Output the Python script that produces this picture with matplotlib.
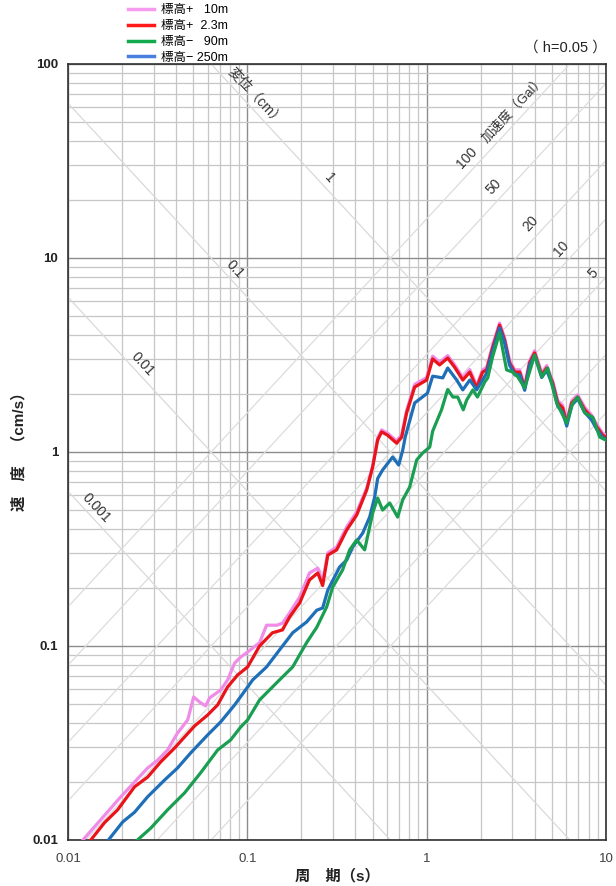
import numpy as np
import matplotlib.pyplot as plt
from matplotlib.ticker import FixedLocator, NullFormatter

plt.rcParams['font.family'] = ['Liberation Sans', 'Noto Sans CJK JP', 'DejaVu Sans']

# --- spectra (period s, velocity cm/s) ---
period_p10 = [0.0121, 0.0152, 0.0197, 0.0235, 0.0278, 0.0316, 0.0359, 0.0408, 0.0465, 0.0502,
              0.0542, 0.0585, 0.0616, 0.0710, 0.0776, 0.0850, 0.0918, 0.1004, 0.117, 0.128,
              0.146, 0.157, 0.172, 0.196, 0.222, 0.247, 0.263, 0.281, 0.315, 0.358,
              0.407, 0.463, 0.500, 0.533, 0.561, 0.606, 0.680, 0.726, 0.773, 0.857,
              1.00, 1.08, 1.18, 1.31, 1.43, 1.59, 1.74, 1.90, 2.05, 2.16,
              2.33, 2.55, 2.72, 2.90, 3.10, 3.30, 3.52, 3.75, 4.00, 4.38,
              4.67, 5.04, 5.38, 5.73, 6.04, 6.44, 6.95, 7.61, 8.32, 8.87, 9.59, 10.0]
vel_p10 = [0.0100, 0.0127, 0.0167, 0.0199, 0.0235, 0.0258, 0.0291, 0.0356, 0.0416, 0.0546,
           0.0514, 0.0491, 0.0540, 0.0593, 0.0668, 0.0817, 0.0877, 0.0931, 0.104, 0.128,
           0.128, 0.131, 0.148, 0.179, 0.238, 0.252, 0.215, 0.302, 0.324, 0.411,
           0.491, 0.650, 0.85, 1.18, 1.30, 1.25, 1.14, 1.23, 1.64, 2.23,
           2.42, 3.12, 2.90, 3.14, 2.82, 2.42, 2.66, 2.20, 2.65, 2.73,
           3.54, 4.62, 3.88, 2.96, 2.65, 2.65, 2.20, 2.96, 3.33, 2.56,
           2.79, 2.33, 1.84, 1.74, 1.45, 1.84, 1.97, 1.70, 1.55, 1.39, 1.25, 1.22]

period_p23 = [0.0134, 0.0160, 0.0189, 0.0235, 0.0278, 0.0328, 0.0393, 0.0447, 0.0508, 0.0601,
              0.0683, 0.0776, 0.0883, 0.1004, 0.117, 0.138, 0.157, 0.172, 0.196, 0.222,
              0.247, 0.263, 0.281, 0.315, 0.358, 0.407, 0.463, 0.500, 0.533, 0.561,
              0.606, 0.680, 0.726, 0.773, 0.857, 1.00, 1.08, 1.18, 1.31, 1.43,
              1.59, 1.74, 1.90, 2.05, 2.16, 2.33, 2.55, 2.72, 2.90, 3.10,
              3.30, 3.52, 3.75, 4.00, 4.38, 4.67, 5.04, 5.38, 5.73, 6.04,
              6.44, 6.95, 7.61, 8.32, 8.87, 9.59, 10.0]
vel_p23 = [0.0100, 0.0123, 0.0143, 0.0188, 0.0211, 0.0252, 0.0298, 0.0340, 0.0387, 0.0441,
           0.0497, 0.0615, 0.0709, 0.0780, 0.100, 0.117, 0.121, 0.141, 0.167, 0.219,
           0.238, 0.205, 0.294, 0.313, 0.396, 0.473, 0.637, 0.837, 1.153, 1.27,
           1.22, 1.11, 1.195, 1.59, 2.16, 2.35, 3.02, 2.81, 3.05, 2.74,
           2.35, 2.58, 2.14, 2.58, 2.65, 3.44, 4.51, 3.78, 2.88, 2.58,
           2.58, 2.14, 2.88, 3.24, 2.49, 2.71, 2.27, 1.79, 1.69, 1.41,
           1.79, 1.92, 1.65, 1.51, 1.35, 1.22, 1.195]

period_m90 = [0.0244, 0.0289, 0.0359, 0.0447, 0.0549, 0.0683, 0.0807, 0.0918, 0.1004, 0.117,
              0.151, 0.179, 0.214, 0.244, 0.277, 0.299, 0.340, 0.372, 0.407, 0.451,
              0.481, 0.500, 0.533, 0.568, 0.622, 0.689, 0.735, 0.804, 0.880, 0.950,
              1.04, 1.08, 1.21, 1.31, 1.40, 1.49, 1.60, 1.67, 1.81, 1.92,
              2.11, 2.19, 2.33, 2.55, 2.79, 3.02, 3.22, 3.52, 4.00, 4.38,
              4.73, 5.31, 6.04, 6.53, 6.95, 7.61, 8.44, 9.22, 10.0]
vel_m90 = [0.0100, 0.0115, 0.0143, 0.0175, 0.0222, 0.0291, 0.0328, 0.0382, 0.0416, 0.0527,
           0.0668, 0.0780, 0.104, 0.125, 0.159, 0.201, 0.247, 0.313, 0.352, 0.313,
           0.411, 0.485, 0.579, 0.502, 0.546, 0.462, 0.566, 0.660, 0.910, 0.988,
           1.06, 1.28, 1.65, 2.10, 1.92, 1.92, 1.65, 1.85, 2.09, 1.92,
           2.30, 2.41, 3.09, 4.11, 2.65, 2.58, 2.44, 2.14, 3.16, 2.44,
           2.71, 1.79, 1.41, 1.79, 1.92, 1.59, 1.51, 1.195, 1.15]

period_m250 = [0.0168, 0.0202, 0.0235, 0.0278, 0.0346, 0.0408, 0.0483, 0.0601, 0.0710, 0.0850,
               0.1004, 0.107, 0.128, 0.151, 0.179, 0.214, 0.244, 0.263, 0.281, 0.327,
               0.358, 0.387, 0.440, 0.481, 0.513, 0.533, 0.568, 0.646, 0.698, 0.735,
               0.760, 0.857, 1.01, 1.08, 1.23, 1.31, 1.47, 1.59, 1.74, 1.90,
               2.16, 2.33, 2.55, 2.72, 2.90, 3.10, 3.30, 3.52, 3.75, 4.00,
               4.38, 4.67, 5.04, 5.38, 5.73, 6.04, 6.44, 6.95, 7.61, 8.32, 8.87, 9.59, 10.0]
vel_m250 = [0.0100, 0.0124, 0.0139, 0.0167, 0.0204, 0.0235, 0.0281, 0.0348, 0.0406, 0.0497,
            0.0615, 0.0668, 0.0780, 0.0953, 0.117, 0.133, 0.153, 0.157, 0.194, 0.255,
            0.277, 0.324, 0.382, 0.462, 0.586, 0.73, 0.808, 0.942, 0.857, 1.02,
            1.20, 1.79, 2.01, 2.46, 2.41, 2.71, 2.35, 2.09, 2.35, 2.09,
            2.55, 3.30, 4.36, 3.65, 2.80, 2.50, 2.50, 2.08, 2.80, 3.15,
            2.42, 2.64, 2.20, 1.72, 1.60, 1.36, 1.74, 1.88, 1.60, 1.46, 1.31, 1.19, 1.16]

labels = ['標高+   10m', '標高+  2.3m', '標高−   90m', '標高− 250m']
legend_colors = ['#f59cf0', '#ff1a1a', '#12a84c', '#4a7fe0']
curve_colors = ['#f08ce8', '#e8141a', '#1a9e52', '#1f6fb8']

# tripartite guide lines
disp_vals = [0.001, 0.01, 0.1, 1]
disp_labels = ['0.001', '0.01', '0.1', '1']
disp_label_T = [0.01438, 0.0261, 0.085, 0.288]
acc_vals = [1, 2, 5, 10, 20, 50, 100]
acc_labels = ['100', '50', '20', '10', '5']
acc_label_T = [1.671, 2.36, 3.80, 5.66, 8.43]

fig = plt.figure(figsize=(6.16, 8.86), dpi=100)
ax = fig.add_axes([68 / 616, 1 - 840 / 886, 538 / 616, 776 / 886])
ax.set_xscale('log')
ax.set_yscale('log')
ax.set_xlim(0.01, 10)
ax.set_ylim(0.01, 100)

# grid
ax.xaxis.set_major_locator(FixedLocator([0.01, 0.1, 1, 10]))
ax.yaxis.set_major_locator(FixedLocator([0.01, 0.1, 1, 10, 100]))
minors = [m * 10.0 ** e for e in range(-3, 3) for m in range(2, 10)]
ax.xaxis.set_minor_locator(FixedLocator(minors))
ax.yaxis.set_minor_locator(FixedLocator(minors))
ax.xaxis.set_minor_formatter(NullFormatter())
ax.yaxis.set_minor_formatter(NullFormatter())
ax.grid(True, which='major', color='#8c8c8c', lw=1.0, zorder=0)
ax.grid(True, which='minor', color='#c6c6c6', lw=0.9, zorder=0)
ax.set_axisbelow(True)

tt = np.logspace(-2.2, 1.2, 50)
for d in disp_vals:
    ax.plot(tt, 2 * np.pi * d / tt, color='#d9d9d9', lw=0.9, zorder=1)
for a in acc_vals:
    ax.plot(tt, a * tt / (2 * np.pi), color='#dcdcdc', lw=0.9, zorder=1)

for lab, t, d in zip(disp_labels, disp_label_T, [0.001, 0.01, 0.1, 1]):
    ax.text(t, 2 * np.pi * d / t * 1.18, lab, rotation=-47, ha='center', va='center',
            fontsize=10, color='#333333', zorder=2)
ax.text(0.1112, 2 * np.pi / 0.1112 * 1.2, '変位（cm）', rotation=-47, ha='center', va='center',
        fontsize=10, color='#333333', zorder=2)
for lab, t, a in zip(acc_labels, acc_label_T, [100, 50, 20, 10, 5]):
    ax.text(t, a * t / (2 * np.pi) * 1.24, lab, rotation=47, ha='center', va='center',
            fontsize=10, color='#333333', zorder=2)
ax.text(3.05, 100 * 3.05 / (2 * np.pi) * 1.2, '加速度（Gal）', rotation=47, ha='center', va='center',
        fontsize=9.5, color='#333333', zorder=2)

# curves
series = [(period_p10, vel_p10), (period_p23, vel_p23), (period_m90, vel_m90), (period_m250, vel_m250)]
order = [0, 1, 3, 2]
for i in order:
    t, v = series[i]
    ax.plot(t, v, color=curve_colors[i], lw=2.3, zorder=5 + order.index(i), solid_joinstyle='round')

# axes styling
for s in ax.spines.values():
    s.set_color('#303030')
    s.set_linewidth(1.2)
ax.tick_params(which='both', length=0)
ax.set_xticklabels(['0.01', '0.1', '1', '10'], fontsize=9.5, color='#404040')
ax.set_yticklabels(['0.01', '0.1', '1', '10', '100'], fontsize=9.5, fontweight='bold', color='#222222')
ax.tick_params(axis='x', pad=9)
ax.tick_params(axis='y', pad=7)

fig.text(337 / 616, 1 - 876 / 886, '周　期（s）', ha='center', va='center', fontsize=11,
         fontweight='bold', color='#222222')
fig.text(19 / 616, 1 - 448 / 886, '速　度　（cm/s）', ha='center', va='center', rotation=90,
         fontsize=11, fontweight='bold', color='#222222')
fig.text(607 / 616, 1 - 48 / 886, '（ h=0.05 ）', ha='right', va='center', fontsize=10.5, color='#222222')

handles = [plt.Line2D([], [], color=c, lw=2.5) for c in legend_colors]
fig.legend(handles, labels, loc='upper left', bbox_to_anchor=(120 / 616, 1 + 3 / 886),
           frameon=False, fontsize=9, handlelength=2.1, handletextpad=0.6,
           labelspacing=0.3, borderpad=0.1)

fig.savefig('out.png', dpi=100)
